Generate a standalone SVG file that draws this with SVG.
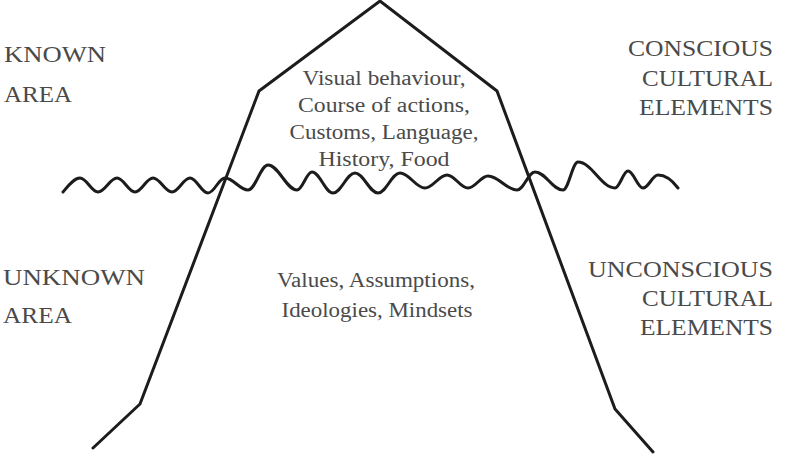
<svg xmlns="http://www.w3.org/2000/svg" width="790" height="465" viewBox="0 0 790 465">
<style>
.ln{fill:none;stroke:#1c1c1c;stroke-width:3;stroke-linejoin:miter;stroke-linecap:round}
.wv{fill:none;stroke:#1c1c1c;stroke-width:3;stroke-linecap:round}
.lb{font-family:"Liberation Serif",serif;font-size:24px;fill:#4a4a4a}
.tx{font-family:"Liberation Serif",serif;font-size:20px;fill:#4a4a4a}
</style>
<rect width="790" height="465" fill="#ffffff"/>
<g id="iceberg">
<polyline class="ln" points="93,448 140,404 259,91 380,1 497,91 615,409 653,452"/>
</g>
<g id="waterline">
<path class="wv" d="M63,192 C68,186 74,178 80,178 C86.7,178 91.3,192 98,192 C105,192 110,178 117,178 C123.7,178 128.3,192 135,192 C141.7,192 146.3,178 153,178 C160,178 165,192 172,192 C178.7,192 183.3,178 190,178 C196.7,178 201.3,193 208,193 C214.3,193 218.7,178 225,178 C233.5,178 239.5,190 248,190 C255.4,190 260.6,165 268,165 C278.7,165 286.3,190 297,190 C302.6,190 306.4,172 312,172 C319.8,172 325.2,193 333,193 C341.1,193 346.9,173 355,173 C363.5,173 369.5,193 378,193 C386.1,193 391.9,173 400,173 C409.3,173 415.7,188 425,188 C433.1,188 438.9,175 447,175 C454.8,175 460.2,188 468,188 C475.4,188 480.6,176 488,176 C498.7,176 506.3,190 517,190 C523.7,190 528.3,172 535,172 C545.4,172 552.6,190 563,190 C568.6,190 572.4,162 578,162 C591.7,162 601.3,188 615,188 C619.8,188 623.2,171 628,171 C633.6,171 637.4,188 643,188 C648.6,188 652.4,175 658,175 C665,175 672,180 678,188"/>
</g>
<g id="known-area">
<text class="lb" x="4" y="62" textLength="102" lengthAdjust="spacingAndGlyphs">KNOWN</text>
<text class="lb" x="4" y="102" textLength="68" lengthAdjust="spacingAndGlyphs">AREA</text>
</g>
<g id="unknown-area">
<text class="lb" x="3" y="285" textLength="142" lengthAdjust="spacingAndGlyphs">UNKNOWN</text>
<text class="lb" x="3" y="323" textLength="69" lengthAdjust="spacingAndGlyphs">AREA</text>
</g>
<g id="conscious" text-anchor="end">
<text class="lb" x="773" y="56" textLength="145" lengthAdjust="spacingAndGlyphs">CONSCIOUS</text>
<text class="lb" x="773" y="86" textLength="131" lengthAdjust="spacingAndGlyphs">CULTURAL</text>
<text class="lb" x="773" y="115" textLength="134" lengthAdjust="spacingAndGlyphs">ELEMENTS</text>
</g>
<g id="unconscious" text-anchor="end">
<text class="lb" x="773" y="277" textLength="185" lengthAdjust="spacingAndGlyphs">UNCONSCIOUS</text>
<text class="lb" x="773" y="306" textLength="131" lengthAdjust="spacingAndGlyphs">CULTURAL</text>
<text class="lb" x="773" y="335" textLength="133" lengthAdjust="spacingAndGlyphs">ELEMENTS</text>
</g>
<g id="visible-elements" text-anchor="middle">
<text class="tx" x="384" y="85" textLength="163" lengthAdjust="spacingAndGlyphs">Visual behaviour,</text>
<text class="tx" x="384" y="112" textLength="172" lengthAdjust="spacingAndGlyphs">Course of actions,</text>
<text class="tx" x="384" y="139" textLength="189" lengthAdjust="spacingAndGlyphs">Customs, Language,</text>
<text class="tx" x="384" y="166" textLength="131" lengthAdjust="spacingAndGlyphs">History, Food</text>
</g>
<g id="hidden-elements" text-anchor="middle">
<text class="tx" x="376" y="287" textLength="198" lengthAdjust="spacingAndGlyphs">Values, Assumptions,</text>
<text class="tx" x="377" y="317" textLength="191" lengthAdjust="spacingAndGlyphs">Ideologies, Mindsets</text>
</g>
</svg>
